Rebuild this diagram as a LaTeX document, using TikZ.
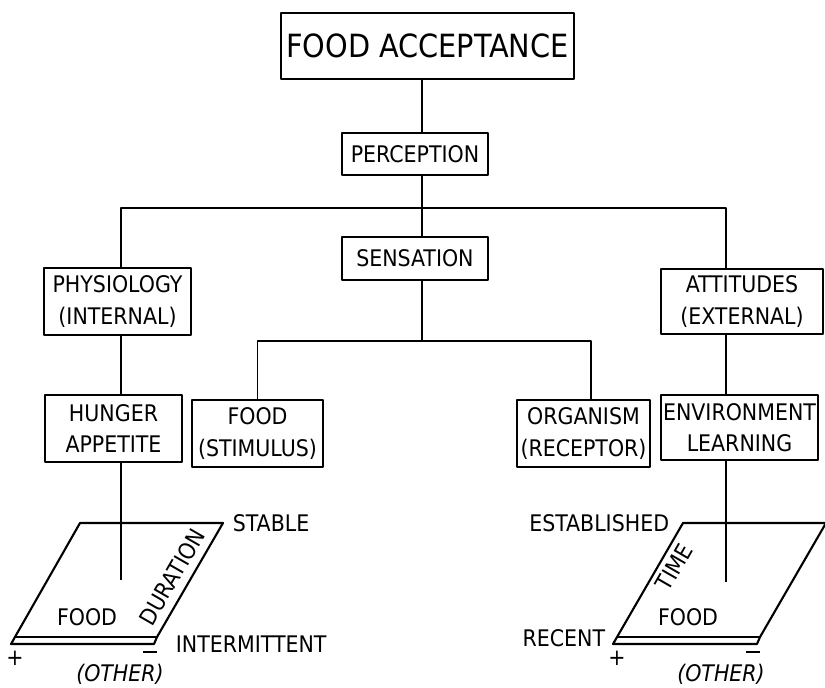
\documentclass[tikz,border=0pt]{standalone}
\usepackage{fontspec}
\setmainfont{DejaVu Sans Condensed}
\begin{document}
\begin{tikzpicture}[x=0.02cm, y=-0.02cm, line width=1pt, line join=round,
  box/.style={draw, line width=1.2pt, inner sep=0pt, align=center, font=\fontsize{13}{18}\selectfont},
  lbl/.style={inner sep=0pt, font=\fontsize{13}{15}\selectfont}]
\useasboundingbox (0,0) rectangle (825,687);
\node (accept) at (427.5,46) [box, minimum width=5.86cm, minimum height=1.32cm, font=\fontsize{18.2}{22}\selectfont] {FOOD ACCEPTANCE};
\node (percep) at (415,154) [box, minimum width=2.92cm, minimum height=0.84cm] {PERCEPTION};
\node (sens) at (415,258.5) [box, minimum width=2.92cm, minimum height=0.86cm] {SENSATION};
\node (physio) at (117.5,301.5) [box, minimum width=2.94cm, minimum height=1.34cm] {PHYSIOLOGY\\(INTERNAL)};
\node (attit) at (742,301.5) [box, minimum width=3.24cm, minimum height=1.3cm] {ATTITUDES\\(EXTERNAL)};
\node (hunger) at (113.5,428.5) [box, minimum width=2.74cm, minimum height=1.34cm] {HUNGER\\APPETITE};
\node (stim) at (257.5,433.5) [box, minimum width=2.62cm, minimum height=1.34cm] {FOOD\\(STIMULUS)};
\node (organ) at (583.5,433.5) [box, minimum width=2.66cm, minimum height=1.34cm] {ORGANISM\\(RECEPTOR)};
\node (envir) at (739.5,427.5) [box, minimum width=3.14cm, minimum height=1.3cm] {ENVIRONMENT\\LEARNING};

\coordinate (spine) at (422,0);
\coordinate (lspine) at (121,0);
\coordinate (rspine) at (726,0);
\coordinate (ostem) at (591,0);
\coordinate (top bar) at (422,208);
\coordinate (sens bar) at (422,341);
\coordinate (lend) at (121,580);
\coordinate (rend) at (726,582);

\draw (accept.south -| spine) to (percep.north -| spine);
\draw (percep.south -| spine) to (sens.north -| spine);
\draw (physio.north -| lspine) |- (top bar) -| (attit.north -| rspine);
\draw (sens.south -| spine) to (sens bar);
\draw (stim.north) |- (sens bar) -| (organ.north -| ostem);
\draw (physio.south -| lspine) to (hunger.north -| lspine);
\draw (attit.south -| rspine) to (envir.north -| rspine);

\draw[line width=1.2pt] (80,523) -- (223,523) -- (157,637) -- (154,644) -- (11,644) -- cycle;
\draw (15,637) -- (157,637);
\draw (hunger.south -| lspine) to (lend);
\node (stable) at (232,523) [lbl, anchor=west] {STABLE};
\node (interm) at (175,644) [lbl, anchor=west] {INTERMITTENT};
\node (durat) at (172,577) [lbl, rotate=60] {DURATION};
\node (lfood) at (87,617) [lbl] {FOOD};
\node (lplus) at (15,658) [lbl] {+};
\node (lminus) at (150,652) [lbl] {\rule{0.6em}{1.1pt}};
\node (lother) at (120,674) [lbl] {\itshape (OTHER)};

\draw[line width=1.2pt] (683,523) -- (826,523) -- (760,637) -- (757,644) -- (613,644) -- cycle;
\draw (617,637) -- (760,637);
\draw (envir.south -| rspine) to (rend);
\node (estab) at (670,523) [lbl, anchor=east] {ESTABLISHED};
\node (recent) at (606,638) [lbl, anchor=east] {RECENT};
\node (time) at (674,567) [lbl, rotate=60] {TIME};
\node (rfood) at (688,617) [lbl] {FOOD};
\node (rplus) at (617,658) [lbl] {+};
\node (rminus) at (753,652) [lbl] {\rule{0.6em}{1.1pt}};
\node (rother) at (721,674) [lbl] {\itshape (OTHER)};
\end{tikzpicture}
\end{document}
